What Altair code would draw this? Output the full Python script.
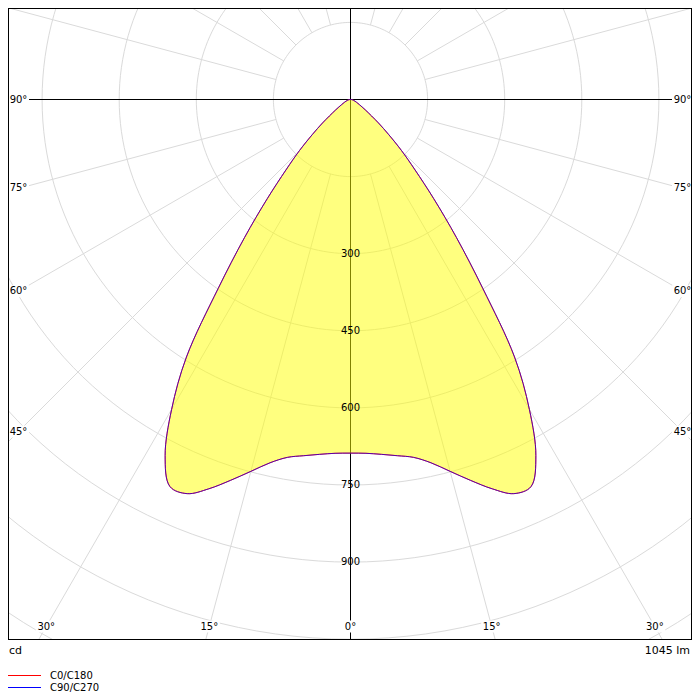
import math
import altair as alt
import pandas as pd

# ---------------- data ----------------
gamma_deg = [0, 2.5, 5, 7.5, 10, 12.5, 15, 17.5, 20, 22.5, 25, 27.5, 30, 32.5,
             35, 37.5, 40, 42.5, 45, 47.5, 50, 55, 60, 65, 70, 75, 80, 85, 90]
cd_c0_c180 = [688, 689, 693, 699, 707, 724, 749, 777, 806, 830, 831, 781, 696, 594,
              449, 339, 252, 186, 140, 100, 71, 35, 20, 13, 9, 6, 4, 2, 0]
cd_c90_c270 = [688, 689, 693, 699, 707, 724, 749, 777, 806, 830, 831, 781, 696, 594,
               449, 339, 252, 186, 140, 100, 71, 35, 20, 13, 9, 6, 4, 2, 0]
ring_values = [150, 300, 450, 600, 750, 900, 1050, 1200]
ring_labels = [300, 450, 600, 750, 900]
spoke_angles = [15, 30, 45, 60, 75, 105, 120, 135, 150, 165]
angle_labels = [0, 15, 30, 45, 60, 75, 90]
legend_names = ["C0/C180", "C90/C270"]
legend_colors = ["#ff0000", "#0000ff"]
unit_text = "cd"
flux_text = "1045 lm"

# ---------------- layout ----------------
K = 0.514            # pixels per cd
W, H = 684, 632      # plot area
CX, CY = 342.5, 91.5 # pole position in plot pixels
FONT = "DejaVu Sans"

xscale = alt.Scale(domain=[-CX / K, (W - CX) / K], nice=False, zero=False)
yscale = alt.Scale(domain=[(CY - H) / K, CY / K], nice=False, zero=False)


def X(f):
    return alt.X(f, type="quantitative", scale=xscale, axis=None)


def Y(f):
    return alt.Y(f, type="quantitative", scale=yscale, axis=None)


# rings
rows = []
for r in ring_values:
    for i in range(0, 181):
        a = math.radians(i * 2)
        rows.append({"r": r, "i": i, "x": r * math.sin(a), "y": r * math.cos(a)})
rings = alt.Chart(pd.DataFrame(rows)).mark_line(
    stroke="#dadada", strokeWidth=1, clip=True
).encode(x=X("x"), y=Y("y"), detail="r:N", order=alt.Order("i:Q"))

# spokes
rows = []
for a in spoke_angles:
    for s in (-1, 1):
        t = math.radians(a)
        r1, r2 = ring_values[0], 3000
        rows.append({"x": s * r1 * math.sin(t), "y": -r1 * math.cos(t),
                     "x2": s * r2 * math.sin(t), "y2": -r2 * math.cos(t)})
spokes = alt.Chart(pd.DataFrame(rows)).mark_rule(
    stroke="#dadada", strokeWidth=1, clip=True
).encode(x=X("x"), y=Y("y"), x2="x2:Q", y2="y2:Q")

# black axes
axis_df = pd.DataFrame({"v": [0]})
vaxis = alt.Chart(axis_df).mark_rule(stroke="#000000", strokeWidth=1).encode(x=X("v"))
haxis = alt.Chart(axis_df).mark_rule(stroke="#000000", strokeWidth=1).encode(y=Y("v"))


# photometric curve (symmetric)
def curve_df(vals):
    pts = []
    n = len(gamma_deg)
    seq = [(-gamma_deg[j], vals[j]) for j in range(n - 1, 0, -1)] + \
          [(gamma_deg[j], vals[j]) for j in range(n)]
    for i, (g, v) in enumerate(seq):
        t = math.radians(g)
        pts.append({"i": i, "x": v * math.sin(t), "y": -v * math.cos(t)})
    return pd.DataFrame(pts)


fill = alt.Chart(curve_df(cd_c0_c180)).mark_line(
    fill="#ffff00", fillOpacity=0.5, stroke="#ff0000", strokeWidth=1,
    interpolate="catmull-rom"
).encode(x=X("x"), y=Y("y"), order=alt.Order("i:Q"))
blue = alt.Chart(curve_df(cd_c90_c270)).mark_line(
    stroke="#0000ff", strokeWidth=1, opacity=0.65, interpolate="catmull-rom"
).encode(x=X("x"), y=Y("y"), order=alt.Order("i:Q"))

# ring value labels
rl = alt.Chart(pd.DataFrame({"v": ring_labels, "x": [0] * len(ring_labels),
                             "y": [-v for v in ring_labels]})).mark_text(
    font=FONT, fontSize=10, color="#000000", baseline="middle", align="center"
).encode(x=X("x"), y=Y("y"), text="v:N")

# angle labels positioned along their rays at the frame inset
SIDE = 332 / K
BOTTOM = 527 / K
rows = []
for a in angle_labels:
    for s in ((-1, 1) if a else (1,)):
        t = math.radians(a)
        cands = [BOTTOM / math.cos(t)] if a < 90 else []
        if a > 0:
            cands.append(SIDE / math.sin(t))
        d = min(cands)
        rows.append({"lab": f"{a}°", "x": s * d * math.sin(t), "y": -d * math.cos(t)})
alab_df = pd.DataFrame(rows)
abox = alt.Chart(alab_df).mark_point(
    shape="M-2.1,-1.2L2.1,-1.2L2.1,1.2L-2.1,1.2Z", size=100, filled=True,
    fill="#ffffff", stroke="#ffffff", strokeWidth=0, opacity=1
).encode(x=X("x"), y=Y("y"))
atext = alt.Chart(alab_df).mark_text(
    font=FONT, fontSize=10, color="#000000", baseline="middle", align="center"
).encode(x=X("x"), y=Y("y"), text="lab:N")

# frame
one = pd.DataFrame({"k": [0]})
frame = [
    alt.Chart(one).mark_rule(stroke="#000000", strokeWidth=1).encode(
        x=alt.value(W - 0.5), y=alt.value(0), y2=alt.value(H)),
    alt.Chart(one).mark_rule(stroke="#000000", strokeWidth=1).encode(
        x=alt.value(0.5), y=alt.value(0), y2=alt.value(H)),
    alt.Chart(one).mark_rule(stroke="#000000", strokeWidth=1).encode(
        x=alt.value(0), x2=alt.value(W), y=alt.value(H - 0.5)),
    alt.Chart(one).mark_rule(stroke="#000000", strokeWidth=1).encode(
        x=alt.value(0), x2=alt.value(W), y=alt.value(0.5)),
]

# footer texts
unit = alt.Chart(pd.DataFrame({"t": [unit_text]})).mark_text(
    font=FONT, fontSize=11, align="left", baseline="middle", color="#000000"
).encode(x=alt.value(1), y=alt.value(643), text="t:N")
flux = alt.Chart(pd.DataFrame({"t": [flux_text]})).mark_text(
    font=FONT, fontSize=11, align="right", baseline="middle", color="#000000"
).encode(x=alt.value(682), y=alt.value(643), text="t:N")

legend_layers = []
for j, (name, col) in enumerate(zip(legend_names, legend_colors)):
    yy = 667.5 + j * 12
    legend_layers.append(alt.Chart(one).mark_rule(stroke=col, strokeWidth=1).encode(
        x=alt.value(0), x2=alt.value(33), y=alt.value(yy)))
    legend_layers.append(alt.Chart(pd.DataFrame({"t": [name]})).mark_text(
        font=FONT, fontSize=10, align="left", baseline="middle", color="#000000"
    ).encode(x=alt.value(42), y=alt.value(yy), text="t:N"))

chart = alt.layer(
    rings, spokes, vaxis, haxis, fill, blue, rl, abox, atext,
    *frame, unit, flux, *legend_layers
).properties(
    width=W, height=H,
    autosize=alt.AutoSizeParams(type="none"),
    padding={"left": 0, "top": 0, "right": 0, "bottom": 52},
).configure_view(stroke=None)

chart.save("out.html", embed_options={"renderer": "svg", "actions": False})
